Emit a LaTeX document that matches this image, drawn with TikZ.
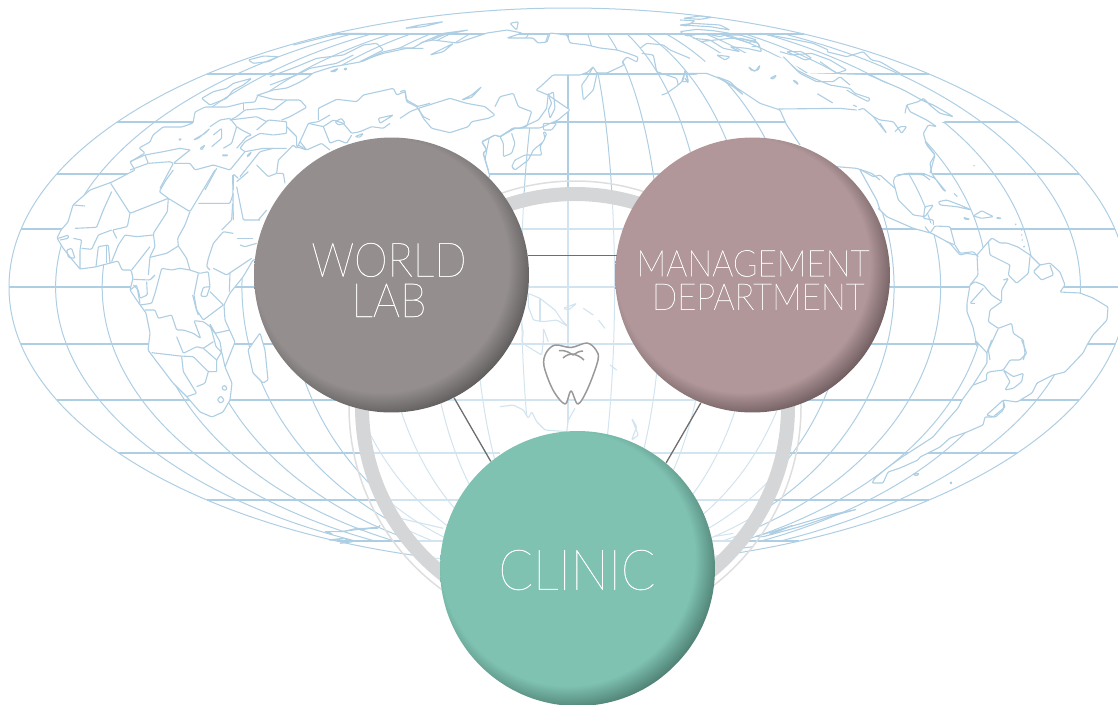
\documentclass[tikz,border=0pt]{standalone}
\usepackage{fontspec}
\newfontfamily\thinfont[FakeStretch=0.9,FakeBold=0.5]{Lato Thin}
\definecolor{mapblue}{HTML}{AECEE3}
\definecolor{ringgray}{HTML}{D5D6D8}
\definecolor{ringthin}{HTML}{DEDEDE}
\definecolor{linkgray}{HTML}{6E6E6E}
\definecolor{toothgray}{HTML}{999999}
\definecolor{worldface}{HTML}{948F8E}
\definecolor{worldrim}{HTML}{5F5D5C}
\definecolor{mgmtface}{HTML}{B19799}
\definecolor{mgmtrim}{HTML}{705D60}
\definecolor{clinicface}{HTML}{7FC2B2}
\definecolor{clinicrim}{HTML}{4E8073}
\pgfdeclareradialshading{worldball}{\pgfpointorigin}{color(0bp)=(worldface);color(21bp)=(worldface);color(25bp)=(worldrim);color(50bp)=(worldrim)}
\pgfdeclareradialshading{mgmtball}{\pgfpointorigin}{color(0bp)=(mgmtface);color(21bp)=(mgmtface);color(25bp)=(mgmtrim);color(50bp)=(mgmtrim)}
\pgfdeclareradialshading{clinicball}{\pgfpointorigin}{color(0bp)=(clinicface);color(21bp)=(clinicface);color(25bp)=(clinicrim);color(50bp)=(clinicrim)}
\tikzset{
	parallel/.style={draw=mapblue,line width=1.7*0.02cm},
	meridian/.style={draw=mapblue,line width=0.02cm},
	coast/.style={draw=mapblue,line width=1.1*0.02cm,line join=round,rounded corners=0.6pt},
	landmask/.style={fill=white},
	crop/.style 2 args={shift={(#1,#2)},x=0.00667cm,y=-0.00667cm},
	ball/.style={circle,minimum size=5.5cm,inner sep=0pt,path picture={\shade[shading=#1] ([xshift=-0.2cm,yshift=0.2cm]path picture bounding box.center) circle (3.03cm);}},
	balltext/.style={text=white,align=center,inner sep=0pt},
	link/.style={draw=linkgray,line width=1.3*0.02cm},
	toothline/.style={draw=toothgray,line width=1.5*0.02cm,line join=round}
}
\begin{document}
\begin{tikzpicture}[x=0.02cm,y=-0.02cm]
	\useasboundingbox (0,0) rectangle (1118,704);
	\clip (0,0) rectangle (1118,704);

	%Graticule
	\draw[meridian] (568,287) ellipse (559 and 279);
	\begin{scope}
		\clip (0,34) rectangle (1118,541);
		\foreach \i in {1,...,11}
			\draw[meridian] (568,287) ellipse ({46.58*\i} and 279);
	\end{scope}
	\draw[parallel] (568,34) -- (568,541);
	\foreach \py in {34,74,122,174,229,287,344,400,453,500,541}{
		\pgfmathsetmacro{\hw}{559*sqrt(1-((\py-287)/279)^2)}
		\draw[parallel] ({568-\hw},\py) -- ({568+\hw},\py);
	}

	%North America mask
	\fill[landmask] (690,73)--(717,53)--(760,53)--(790,60)--(803,73)--(862,75)--(900,88)--(923,98)--(953,117)--(937,125)--(928,125)--(923,133)--(927,145)--(935,155)--(930,173)--(932,173)--(946,192)--(935,178)--(923,173)--(907,173)--(895,177)--(893,182)--(898,200)--(913,215)--(925,217)--(933,205)--(925,207)--(923,218)--(933,225)--(950,227)--(955,245)--(960,253)--(977,255)--(967,253)--(950,243)--(932,233)--(913,228)--(887,217)--(878,208)--(860,200)--(800,145)--(787,125)--(780,110)--(760,103)--(723,80)--cycle;

	%South America
	\draw[coast,landmask] (977,255)--(988,242)--(992,238)--(1000,243)--(1007,243)--(1018,247)--(1030,255)--(1040,265)--(1050,263)--(1060,272)--(1065,285)--(1060,292)--(1080,293)--(1093,298)--(1108,307)--(1107,320)--(1093,335)--(1087,345)--(1083,353)--(1065,372)--(1053,375)--(1037,383)--(1032,393)--(1017,402)--(1003,400)--(1005,407)--(993,417)--(985,417)--(983,425)--(967,432)--(950,438)--(940,447)--(920,457)--(918,460)--(900,468)--(888,472)--(883,483)--(872,483)--(875,478)--(887,468)--(902,457)--(913,450)--(933,437)--(943,425)--(958,408)--(962,400)--(973,385)--(987,363)--(987,353)--(975,340)--(977,347)--(973,327)--(967,312)--(967,303)--(968,297)--(970,285)--(978,275)--cycle;

	%Eurasia and Africa
	\draw[coast,landmask] (135,170)--(112,182)--(90,190)--(73,205)--(68,222)--(61,230)--(57,238)--(63,248)--(70,257)--(80,269)--(95,267)--(118,261)--(122,270)--(131,270)--(133,278)--(130,290)--(138,302)--(146,313)--(150,333)--(148,350)--(157,362)--(173,383)--(187,397)--(200,412)--(212,417)--(223,412)--(230,400)--(232,383)--(225,367)--(235,342)--(225,320)--(224,305)--(230,293)--(243,277)--(253,260)--(300,250)--(490,177)--(488,170)--(483,153)--(487,150)--(482,142)--(495,135)--(500,137)--(513,128)--(520,128)--(540,128)--(558,120)--(570,110)--(548,95)--(536,90)--(540,87)--(553,75)--(567,75)--(580,75)--(588,72)--(593,67)--(597,73)--(607,73)--(624,65)--(622,62)--(627,57)--(637,62)--(638,57)--(627,53)--(617,50)--(600,48)--(587,45)--(570,43)--(567,35)--(550,33)--(547,42)--(538,43)--(533,38)--(507,38)--(522,33)--(507,30)--(487,33)--(472,38)--(457,43)--(433,40)--(423,42)--(413,48)--(400,48)--(383,52)--(360,62)--(332,67)--(313,73)--(307,78)--(298,83)--(287,88)--(273,90)--(258,95)--(255,102)--(243,103)--(227,107)--(205,107)--(195,112)--(193,123)--(182,127)--(163,127)--(153,135)--(150,142)--(139,148)--(145,153)--(130,162)--cycle;

	%Madagascar
	\draw[coast,landmask] (260,333)--(248,350)--(253,373)--(263,383)--(268,380)--(265,350)--cycle;

	%Africa borders
	\begin{scope}[crop={40}{170}]
		\draw[coast] (212,40)--(270,130)--(385,85)--(450,125)--(525,0);
		\draw[coast] (215,65)--(190,120)--(170,172)--(105,175);
		\draw[coast] (100,105)--(135,108);
		\draw[coast] (270,130)--(262,170)--(218,180)--(230,205);
		\draw[coast] (385,85)--(382,125)--(340,190)--(345,230)--(330,260)--(325,315);
		\draw[coast] (400,0)--(378,30)--(358,65)--(385,85);
		\draw[coast] (450,125)--(435,165)--(413,205)--(415,228)--(440,265)--(450,300);
		\draw[coast] (475,100)--(570,100)--(580,70);
		\draw[coast] (415,228)--(380,250)--(330,262);
		\draw[coast] (340,195)--(290,200)--(255,195)--(235,225)--(215,275);
		\draw[coast] (330,230)--(275,300);
		\draw[coast] (450,300)--(420,295)--(395,300)--(365,295)--(345,370)--(335,400)--(300,405);
		\draw[coast] (345,315)--(330,330)--(280,328);
		\draw[coast] (320,335)--(322,375)--(300,385)--(295,360)--(280,345);
		\draw[coast] (450,300)--(480,310)--(505,305)--(510,350)--(500,380)--(482,378)--(490,352)--(510,350);
		\draw[coast] (510,300)--(500,290)--(505,265)--(520,220)--(550,185)--(580,190);
		\draw[coast] (545,180)--(575,150)--(578,100);
		\draw[coast] (520,295)--(560,315)--(590,295)--(635,265);
		\draw[coast] (570,310)--(568,365);
		\draw[coast] (475,310)--(462,375)--(470,420)--(490,450)--(550,405);
		\draw[coast] (458,375)--(468,415)--(475,435);
		\draw[coast] (510,365)--(550,405);
		\draw[coast] (315,420)--(345,420)--(355,445)--(395,435)--(410,480)--(430,480)--(460,490)--(482,505)--(462,452)--(490,455)--(510,470)--(525,490)--(570,480);
		\draw[coast] (410,500)--(430,550)--(470,530)--(490,535)--(520,515);
		\draw[coast] (335,548)--(420,558)--(460,560)--(505,605)--(530,605);
		\draw[coast] (425,560)--(430,605)--(470,670)--(440,680);
		\draw[coast] (470,650)--(495,640)--(505,605);
		\draw[coast] (530,605)--(530,570)--(545,545)--(555,590);
		\draw[coast] (490,535)--(530,570);
		\draw[coast] (510,462)--(528,530)--(545,547)--(540,515)--(520,480)--(510,462);
		\draw[coast] (532,690)--(542,678)--(553,690)--(542,700)--cycle;
		\draw[coast] (545,655)--(552,645)--(562,655)--(555,662)--cycle;
		\draw[coast] (55,205)--(85,195)--(85,205)--(60,210);
		\draw[coast] (100,205)--(125,210)--(120,240)--(120,298);
		\draw[coast] (125,235)--(155,238)--(175,195)--(215,180);
		\draw[coast] (168,290)--(175,230)--(205,225)--(210,280);
		\draw[coast] (200,225)--(200,280);
		\draw[coast] (80,240)--(95,235)--(105,265)--(85,262)--cycle;
		\draw[coast] (270,360)--(290,345)--(300,400);
		\draw[coast] (590,50)--(610,150)--(660,150);
		\draw[coast] (590,205)--(640,205);
		\draw[coast] (600,225)--(615,230)--(650,220);
		\draw[coast] (655,150)--(680,120);
		\draw[coast] (578,15)--(580,150);
		\draw[coast] (625,5)--(590,35);
	\end{scope}

	%Europe and Asia
	\begin{scope}[crop={130}{20}]
		\draw[coast] (215,235)--(250,215)--(290,205)--(310,190)--(365,175)--(340,195)--(310,210)--(290,235)--(240,255)--cycle;
		\draw[coast] (355,120)--(400,108)--(445,110)--(415,125)--(370,130)--cycle;
		\draw[coast] (420,170)--(500,140)--(560,115)--(640,105)--(700,75)--(740,70)--(760,90)--(690,125);
		\draw[coast] (420,195)--(500,165)--(540,145)--(620,130)--(670,105);
		\draw[coast] (490,75)--(530,65)--(590,50)--(640,40)--(710,40);
		\draw[coast] (600,155)--(625,145)--(615,155)--cycle;
		\draw[coast] (640,148)--(650,143)--(650,150)--cycle;
		\draw[coast] (695,125)--(730,110)--(760,100)--(830,85)--(880,85);
		\draw[coast] (300,300)--(320,290)--(345,270)--(400,265)--(430,270)--(470,240)--(510,240)--(530,262)--(480,290)--(455,300);
		\draw[coast] (380,225)--(430,238)--(470,240);
		\draw[coast] (340,250)--(340,270);
		\draw[coast] (240,320)--(270,300)--(300,295)--(320,320)--(305,370)--(280,385);
		\draw[coast] (250,345)--(275,325)--(275,355)--(245,380);
		\draw[coast] (320,320)--(335,330)--(365,345)--(350,350)--(320,385);
		\draw[coast] (380,330)--(415,300)--(470,305)--(470,340)--(430,345)--(390,340)--(345,365)--(330,385)--(345,395)--(400,385)--(470,385);
		\draw[coast] (470,320)--(500,350)--(500,380)--(530,390)--(510,365);
		\draw[coast] (300,300)--(380,290)--(410,305);
		\draw[coast] (190,360)--(225,340)--(240,325)--(205,355)--cycle;
		\draw[coast] (210,385)--(225,375)--(215,390)--cycle;
		\draw[coast] (145,358)--(155,356)--(150,362)--cycle;
		\draw[coast] (275,405)--(295,405)--(285,409)--cycle;
		\draw[coast] (350,408)--(365,395)--(355,410)--cycle;
		\draw[coast] (180,390)--(130,430)--(180,430)--(195,450)--(250,435)--(300,450)--(345,395);
		\draw[coast] (0,425)--(45,405)--(100,395)--(150,385)--(180,390);
		\draw[coast] (55,430)--(120,425)--(130,430)--(90,505);
		\draw[coast] (0,450)--(55,430)--(45,405);
		\draw[coast] (260,445)--(225,510);
		\draw[coast] (310,510)--(310,462)--(325,475);
		\draw[coast] (330,470)--(390,395)--(430,385);
		\draw[coast] (380,435)--(415,470)--(440,460)--(445,420)--(490,375)--(500,385)--(510,365)--(535,310)--(565,305)--(600,285);
		\draw[coast] (440,460)--(460,460)--(465,490);
		\draw[coast] (505,375)--(530,390)--(575,370)--(600,390);
		\draw[coast] (565,300)--(565,265)--(620,238)--(680,245)--(700,225)--(790,205)--(800,225)--(825,215)--(830,245)--(860,260)--(900,250);
		\draw[coast] (535,310)--(580,320)--(610,300)--(640,310)--(665,340)--(690,335)--(725,320)--(760,325)--(780,310);
		\draw[coast] (580,320)--(600,370)--(625,360)--(650,370)--(665,345);
		\draw[coast] (615,305)--(635,295)--(645,310)--(625,315)--cycle;
		\draw[coast] (745,295)--(790,285)--(750,310)--cycle;
		\draw[coast] (675,350)--(700,340)--(690,352)--cycle;
		\draw[coast] (860,260)--(880,290)--(900,300);
	\end{scope}

	%East Asia
	\begin{scope}[crop={400}{10}]
		\draw[coast] (15,55)--(60,45)--(130,35)--(70,50)--cycle;
		\draw[coast] (60,100)--(130,70)--(205,60)--(130,75)--(95,90);
		\draw[coast] (90,135)--(160,100)--(130,125)--cycle;
		\draw[coast] (330,40)--(355,35)--(350,60)--cycle;
		\draw[coast] (580,170)--(560,205)--(545,225)--(550,270)--(580,240)--(590,195);
		\draw[coast] (445,255)--(460,245)--(465,295)--(450,325)--(445,300)--(455,280)--cycle;
		\draw[coast] (445,250)--(440,295)--(415,330)--(360,355)--(340,355)--(300,380)--(285,375)--(245,395)--(260,420)--(250,430)--(265,480);
		\draw[coast] (345,355)--(300,380)--(310,400)--(310,440)--(335,430)--(345,400)--(335,370);
		\draw[coast] (430,365)--(435,385)--(420,410)--(425,435)--(400,435)--(375,435)--(345,450)--(335,470)--(345,480)--(385,450)--(400,420)--(430,395)--(440,370)--cycle;
		\draw[coast] (430,340)--(470,340)--(455,360)--(430,360)--cycle;
		\draw[coast] (55,295)--(150,265)--(200,280)--(255,290)--(285,315)--(265,325)--(215,335)--(205,350)--(150,368)--(95,355)--(70,325)--cycle;
		\draw[coast] (0,325)--(30,305)--(55,295);
		\draw[coast] (0,245)--(15,240)--(20,270)--(55,290);
		\draw[coast] (285,290)--(300,260)--(340,250)--(355,290)--(395,305)--(380,350)--(360,355);
		\draw[coast] (185,270)--(215,255)--(245,230)--(215,262)--cycle;
	\end{scope}

	%Alaska, Canada
	\begin{scope}[crop={680}{10}]
		\draw[coast] (-120,115)--(-100,100)--(-50,105)--(-30,120)--(30,145);
		\draw[coast] (-115,130)--(-80,135)--(-70,185)--(-10,205)--(-5,225)--(-40,250)--(-55,255);
		\draw[coast] (-5,225)--(10,210)--(15,180)--(25,220)--(15,205);
		\draw[coast] (0,30)--(45,32)--(20,48)--(0,45);
		\draw[coast] (0,65)--(50,58)--(100,62)--(150,70)--(120,80)--(70,70)--(20,78)--cycle;
		\draw[coast] (10,25)--(60,18)--(95,22)--(60,28)--cycle;
		\draw[coast] (0,45)--(40,40)--(120,45)--(150,60)--(90,50)--cycle;
		\draw[coast] (40,85)--(90,90)--(130,115)--(180,125)--(150,110)--(200,115)--(245,125)--(235,100)--(180,85)--(150,85)--(60,95);
		\draw[coast] (180,85)--(230,95)--(240,110)--(215,110);
		\draw[coast] (130,75)--(180,75)--(230,90)--(205,98)--cycle;
		\draw[coast] (110,135)--(150,140)--(135,150)--cycle;
		\draw[coast] (205,170)--(215,182)--(235,180)--(240,165)--(225,185)--cycle;
		\draw[coast] (270,205)--(290,195)--(280,207)--cycle;
		\draw[coast] (338,210)--(355,225)--(350,215)--cycle;
		\draw[coast] (410,250)--(460,280)--(430,262)--cycle;
		\draw[coast] (300,125)--(335,135)--(395,130)--(450,150)--(500,180)--(470,190)--(420,155);
		\draw[coast] (240,70)--(350,90)--(400,100)--(445,120)--(440,125)--(500,140)--(550,125)--(575,150)--(600,155)--(660,190);
		\draw[coast] (320,125)--(365,125)--(395,145)--(375,150)--cycle;
		\draw[coast] (310,140)--(350,180)--(390,200)--(450,225)--(510,235)--(525,250)--(570,265)--(565,275)--(525,255)--(500,240);
		\draw[coast] (335,165)--(360,190)--(410,215)--(460,215)--(480,200)--(510,225);
		\draw[coast] (555,190)--(660,235)--(680,245)--(725,270)--(735,275)--(760,285)--(820,320)--(780,310)--(755,290)--(730,265)--(715,275)--(680,285)--(690,305)--(740,330)--(770,350)--(745,345)--(730,370)--(740,405)--(765,435)--(750,490);
		\draw[coast] (675,310)--(680,285);
		\draw[coast] (20,190)--(80,190)--(130,210)--(180,240)--(240,280)--(300,300)--(320,345)--(360,405);
		\draw[coast] (110,200)--(150,215)--(190,255)--(160,230)--cycle;
		\draw[coast] (15,185)--(5,215)--(25,215)--(20,190);
		\draw[coast] (295,297)--(480,295)--(530,300);
		\draw[coast] (535,300)--(550,295)--(580,320)--(600,330)--(640,335)--(665,370)--(680,350)--(660,350)--(645,365);
		\draw[coast] (580,320)--(620,370)--(600,340);
		\draw[coast] (520,285)--(530,290);
		\draw[coast] (470,470)--(530,475)--(575,490)--(600,510);
		\draw[coast] (650,495)--(690,490)--(730,495)--(750,510);
	\end{scope}

	%Central and South America
	\begin{scope}[crop={860}{140}]
		\draw[coast] (195,5)--(225,45)--(210,70)--(215,100)--(250,150)--(258,155)--(225,115)--(190,100)--(140,100)--(105,110)--(100,125)--(115,180)--(160,225)--(195,230)--(220,195)--(195,200)--(190,235)--(220,240)--(220,255);
		\draw[coast] (0,88)--(40,110)--(60,105)--(105,145);
		\draw[coast] (55,205)--(80,230)--(160,265)--(215,280)--(270,310)--(300,345)--(320,340)--(350,345);
		\draw[coast] (0,90)--(50,180)--(60,210);
		\draw[coast] (195,260)--(210,280)--(225,258)--(270,260)--(285,315)--(260,305);
		\draw[coast] (285,315)--(300,340)--(340,335)--(355,350);
		\draw[coast] (385,305)--(390,345)--(430,365)--(450,375)--(445,405)--(470,430)--(505,400)--(510,350);
		\draw[coast] (540,375)--(520,395)--(545,420)--(580,405)--(570,375);
		\draw[coast] (430,420)--(445,415)--(425,450)--(425,485)--(395,465)--(370,435)--(345,425)--(330,435);
		\draw[coast] (370,445)--(330,490)--(345,490);
		\draw[coast] (425,485)--(390,510)--(385,545)--(415,565)--(455,550)--(460,580)--(490,600)--(495,640)--(490,660);
		\draw[coast] (415,565)--(385,630)--(390,660);
		\draw[coast] (235,185)--(260,180)--(300,195)--(335,210)--(290,200)--(240,195)--cycle;
		\draw[coast] (340,228)--(365,212)--(400,230)--(365,235)--cycle;
		\draw[coast] (310,232)--(330,238)--(315,238)--cycle;
		\draw[coast] (410,232)--(425,235)--(412,236)--cycle;
		\draw[coast] (282,160)--(292,170);
		\draw[coast] (467,253) circle (1.2);
		\draw[coast] (342,77) circle (0.8);
		\draw[coast] (485,270) circle (0.8);
		\draw[coast] (485,285) circle (0.8);
		\draw[coast] (487,300) circle (0.8);
		\draw[coast] (492,320) circle (1.2);
	\end{scope}
	\begin{scope}[crop={720}{340}]
		\draw[coast] (815,0)--(800,40);
		\draw[coast] (905,0)--(920,40)--(900,60)--(870,60)--(850,90)--(810,95)--(800,100)--(800,120)--(760,135);
		\draw[coast] (850,90)--(880,110)--(910,100)--(905,125)--(880,145)--(855,150)--(870,125)--cycle;
		\draw[coast] (850,180)--(800,225)--(825,232)--(850,210)--cycle;
		\draw[coast] (578,402)--(598,400)--(590,408)--cycle;
		\draw[coast] (690,425)--(697,428)--(692,433)--cycle;
		\draw[coast] (105,590)--(210,560)--(330,525)--(410,508)--(330,530)--(240,560)--(130,590)--cycle;
		\draw[coast] (150,580)--(220,555)--(150,585)--cycle;
		\draw[coast] (100,620)--(60,625);
	\end{scope}

	%Antarctica
	\begin{scope}[crop={0}{340}]
		\draw[coast] (975,575)--(1030,575)--(1070,565)--(1135,565)--(1140,555);
		\draw[coast] (975,575)--(1000,585)--(985,575);
		\draw[coast] (985,600)--(1030,595)--(1060,605)--(1010,600)--cycle;
	\end{scope}
	\begin{scope}[crop={340}{400}]
		\draw[coast] (0,395)--(40,390)--(120,380)--(60,390);
		\draw[coast] (0,420)--(40,425)--(0,430);
		\draw[coast] (180,355)--(310,385);
		\draw[coast] (1120,410)--(1180,400);
	\end{scope}

	%Australasia
	\begin{scope}[crop={500}{270}]
		\fill[landmask] (0,410)--(40,405)--(70,420)--(85,445)--(95,425)--(110,455)--(135,480)--(200,485)--(205,450)--(225,415)--(225,570)--(0,570)--cycle;
		\fill[landmask] (85,70)--(120,85)--(165,120)--(185,150)--(205,170)--(170,150)--(130,155)--(100,150)--(85,110)--cycle;
		\draw[coast] (0,410)--(40,405)--(70,420)--(85,445)--(95,425)--(110,455)--(135,480)--(200,485)--(205,450)--(225,415);
		\draw[coast] (85,70)--(120,85)--(165,120)--(185,150)--(205,170)--(170,150)--(130,155)--(100,150)--(85,110)--cycle;
		\draw[coast] (120,85)--(120,155);
		\draw[coast] (190,115)--(230,100)--(205,120)--cycle;
		\draw[coast] (250,115)--(280,135);
		\draw[coast] (295,150)--(315,175);
		\draw[coast] (330,285)--(350,300);
		\draw[coast] (395,445)--(410,470)--(395,510)--(415,495)--cycle;
		\draw[coast] (65,160)--(70,190)--(65,215)--(75,225)--(125,255)--(130,215)--(130,175)--(145,215);
	\end{scope}

	%Ring
	\fill[white,opacity=0.45] (575,407) circle (213*0.02cm);
	\draw[ringthin,line width=1.5*0.02cm] (575,407) circle (226*0.02cm);
	\draw[ringgray,line width=14*0.02cm] (575,407) circle (213*0.02cm);

	%Tooth
	\draw[toothline,fill=white] plot[smooth cycle,tension=0.55] coordinates {(571,347.5) (555,345) (546,353) (544,366) (553,390) (565,404) (571,391) (578,404) (588,388) (598,360) (596,350) (587,343)};
	\draw[toothline] (559,350.5) .. controls (566,350) and (570,353) .. (573,355) .. controls (576,353) and (579,351) .. (583,351);
	\draw[toothline] (563,358) .. controls (566,355) and (570,354) .. (573,354) .. controls (576,355) and (580,356) .. (584,360);

	%Balls
	\node[ball=worldball] (world) at (391.5,275) {};
	\node[ball=mgmtball] (management) at (752.5,275) {};
	\node[ball=clinicball] (clinic) at (577.5,568.5) {};

	\draw[link,shorten >=-2*0.02cm] (world.8.7) -- (world.8.7 -| management.west);
	\draw[link] (world.-63.6) -- (clinic.129.4);
	\draw[link] (management.-112.3) -- (clinic.50.6);

	\node[balltext,font=\thinfont\fontsize{27}{23}\selectfont] (worldlabel) at (389,280) {WORLD\\LAB};
	\node[balltext,font=\thinfont\fontsize{21}{19}\selectfont] (managementlabel) at (753,280) {MANAGEMENT\\\hspace{6pt}DEPARTMENT};
	\node[balltext,font=\thinfont\fontsize{32}{32}\selectfont] (cliniclabel) at (577,570) {CLINIC};
\end{tikzpicture}
\end{document}
